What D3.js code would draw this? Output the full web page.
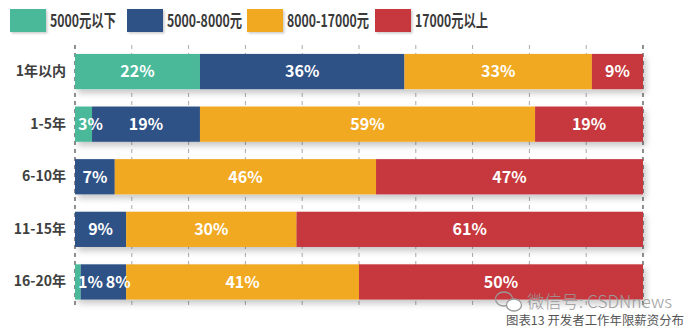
<!DOCTYPE html>
<html>
<head>
<meta charset="utf-8">
<script src="https://cdn.jsdelivr.net/npm/d3@7"></script>
<style>
  html, body { margin: 0; padding: 0; background: #fff; }
  svg { display: block; font-family: "Noto Sans CJK SC", "Noto Sans", sans-serif; }
</style>
</head>
<body>
<svg id="chart" width="696" height="336"></svg>
<script>
// Salary distribution by years of work experience (percent of developers)
const categories = ["1年以内", "1-5年", "6-10年", "11-15年", "16-20年"];
const seriesNames = ["5000元以下", "5000-8000元", "8000-17000元", "17000元以上"];
const seriesColors = ["#48B99A", "#2F5186", "#F2A922", "#C6373E"];
const below5000   = [22, 3, 0, 0, 1];
const from5to8k   = [36, 19, 7, 9, 8];
const from8to17k  = [33, 59, 46, 30, 41];
const above17000  = [9, 19, 47, 61, 50];
const xTicks = [0, 10, 20, 30, 40, 50, 60, 70, 80, 90, 100];

const series = [below5000, from5to8k, from8to17k, above17000];

const svg = d3.select("#chart");
const margin = { left: 75, right: 53 };
const W = 696;

const x = d3.scaleLinear().domain([0, 100]).range([margin.left, W - margin.right]);
const y = d3.scaleBand().domain(categories).range([45, 45 + 52.7 * 5]).paddingInner(0.33).paddingOuter(0.17);

// drop shadow under bars
const defs = svg.append("defs");
const f = defs.append("filter").attr("id", "shadow").attr("x", "-5%").attr("y", "-20%").attr("width", "115%").attr("height", "160%");
f.append("feDropShadow").attr("dx", 3).attr("dy", 4).attr("stdDeviation", 3).attr("flood-color", "#000").attr("flood-opacity", 0.22);
const fs = defs.append("filter").attr("id", "shadowSmall").attr("x", "-20%").attr("y", "-20%").attr("width", "150%").attr("height", "160%");
fs.append("feDropShadow").attr("dx", 1.5).attr("dy", 1.5).attr("stdDeviation", 1.2).attr("flood-color", "#000").attr("flood-opacity", 0.2);

// grid
const gridTop = 45, gridBottom = 306;
svg.append("g").selectAll("line").data(xTicks).join("line")
  .attr("x1", d => x(d)).attr("x2", d => x(d))
  .attr("y1", gridTop).attr("y2", gridBottom)
  .attr("stroke", d => (d === 0 || d === 100) ? "#555" : "#aaa")
  .attr("stroke-width", d => (d === 0 || d === 100) ? 1.3 : 1)
  .attr("stroke-dasharray", "4,4");

// stacked rows
const stacked = categories.map((c, i) => {
  let acc = 0;
  return series.map((s, k) => {
    const seg = { cat: c, k, v: s[i], x0: acc, x1: acc + s[i] };
    acc += s[i];
    return seg;
  });
});

const barsG = svg.append("g").attr("filter", "url(#shadow)");
stacked.forEach(row => {
  barsG.selectAll(null).data(row.filter(d => d.v > 0)).join("rect")
    .attr("x", d => x(d.x0))
    .attr("y", d => y(d.cat))
    .attr("width", d => x(d.x1) - x(d.x0))
    .attr("height", y.bandwidth())
    .attr("fill", d => seriesColors[d.k]);
});

// value labels, nudged right when a segment is too narrow for its text
const labelsG = svg.append("g");
stacked.forEach(row => {
  let prevRight = x(0);
  row.filter(d => d.v > 0).forEach(d => {
    const t = labelsG.append("text")
      .attr("y", y(d.cat) + y.bandwidth() / 2)
      .attr("dy", "0.36em")
      .attr("text-anchor", "middle")
      .attr("fill", "#fff")
      .attr("font-size", 16)
      .attr("font-weight", 700)
      .text(d.v + "%");
    const w = t.node().getComputedTextLength();
    const cx = Math.max((x(d.x0) + x(d.x1)) / 2, prevRight + 3 + w / 2);
    t.attr("x", cx);
    prevRight = cx + w / 2;
  });
});

// category axis
const yAxis = svg.append("g").attr("transform", `translate(${x(0) - 9},0)`)
  .call(d3.axisLeft(y).tickSize(0).tickPadding(0));
yAxis.select(".domain").remove();
yAxis.selectAll("text")
  .attr("font-size", 14).attr("font-weight", 700).attr("fill", "#404040")
  .attr("font-family", "'Noto Sans CJK SC', sans-serif");

// legend (condensed text)
const legendX = [10, 127, 247, 375];
const legendTextW = [66, 75, 82, 73];
const legend = svg.append("g");
seriesNames.forEach((n, i) => {
  legend.append("rect").attr("x", legendX[i]).attr("y", 9).attr("width", 36).attr("height", 23)
    .attr("fill", seriesColors[i]).attr("filter", "url(#shadowSmall)");
  legend.append("text").attr("x", legendX[i] + 40).attr("y", 20.6).attr("dy", "0.36em")
    .attr("font-size", 17).attr("font-weight", 700).attr("fill", "#3a3a3a")
    .attr("textLength", legendTextW[i]).attr("lengthAdjust", "spacingAndGlyphs")
    .text(n);
});

// source watermark and caption
const wm = svg.append("g").attr("fill", "none").attr("stroke", "#999").attr("stroke-width", 1.3);
wm.append("ellipse").attr("cx", 504).attr("cy", 299).attr("rx", 8.5).attr("ry", 7);
wm.append("ellipse").attr("cx", 514).attr("cy", 305).attr("rx", 7.5).attr("ry", 6).attr("fill", "#fff");
svg.append("text").attr("x", 527).attr("y", 308).attr("font-size", 17).attr("font-weight", 300)
  .attr("fill", "#9a9a9a").attr("textLength", 145).attr("lengthAdjust", "spacingAndGlyphs")
  .text("微信号: CSDNnews");
svg.append("text").attr("x", 506).attr("y", 325).attr("font-size", 12).attr("fill", "#555")
  .attr("textLength", 178).attr("lengthAdjust", "spacingAndGlyphs")
  .text("图表13 开发者工作年限薪资分布");
</script>
</body>
</html>
